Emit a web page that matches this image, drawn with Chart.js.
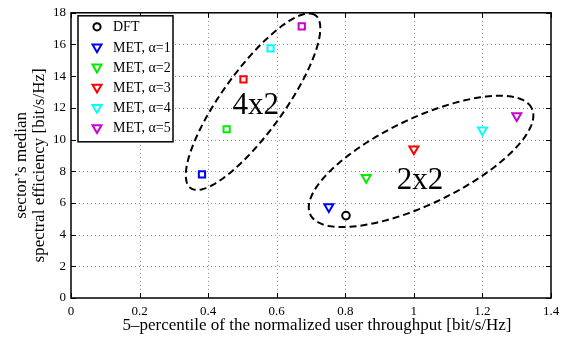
<!DOCTYPE html>
<html>
<head>
<meta charset="utf-8">
<script src="https://cdn.jsdelivr.net/npm/chart.js@4"></script>
<style>
  html, body { margin: 0; padding: 0; background: #fff; }
  #wrap { width: 568px; height: 345px; position: relative; }
</style>
</head>
<body>
<div id="wrap"><canvas id="chart"></canvas></div>
<script>
const xTicks = [0, 0.2, 0.4, 0.6, 0.8, 1, 1.2, 1.4];
const yTicks = [0, 2, 4, 6, 8, 10, 12, 14, 16, 18];

const seriesNames = ["DFT", "MET, \u03b1=1", "MET, \u03b1=2", "MET, \u03b1=3", "MET, \u03b1=4", "MET, \u03b1=5"];
const seriesColors = ["#000000", "#0000ff", "#00ee00", "#ff0000", "#00ffff", "#cc00cc"];

const xTitle = "5\u2013percentile of the normalized user throughput [bit/s/Hz]";
const yTitle = ["sector\u2019s median", "spectral efficiency [bit/s/Hz]"];

// 4x2 antenna config (squares)
const x4x2 = [null, 0.382, 0.454, 0.503, 0.582, 0.673];
const y4x2 = [null, 7.8, 10.65, 13.8, 15.75, 17.15];
// 2x2 antenna config (down triangles), DFT circle
const x2x2 = [0.802, 0.752, 0.861, 1.0, 1.2, 1.3];
const y2x2 = [5.2, 5.75, 7.6, 9.4, 10.6, 11.5];

// dashed ellipses: centre, major and minor half-axis vectors (data units)
const ellipses = [
  { cx: 0.531, cy: 12.39, ux: 0.182, uy: 5.45, vx: -0.0732, vy: 1.145, label: "4x2", lx: 0.539, ly: 12.14 },
  { cx: 1.021, cy: 8.62, ux: 0.323, uy: 3.35, vx: -0.0544, vy: 2.44, label: "2x2", lx: 1.018, ly: 7.42 }
];

const serif = "'Liberation Serif', 'DejaVu Serif', serif";

const datasets = seriesNames.map((name, i) => {
  const pts = [];
  const styles = [];
  const rot = [];
  const rad = [];
  if (x4x2[i] !== null) {
    pts.push({ x: x4x2[i], y: y4x2[i] });
    styles.push("rect"); rot.push(0); rad.push(4.4);
  }
  pts.push({ x: x2x2[i], y: y2x2[i] });
  styles.push(i === 0 ? "circle" : "triangle");
  rot.push(i === 0 ? 0 : 180);
  rad.push(i === 0 ? 3.8 : 5.2);
  return {
    label: name,
    data: pts,
    pointStyle: styles,
    rotation: rot,
    pointRadius: rad,
    pointHoverRadius: rad,
    borderColor: seriesColors[i],
    backgroundColor: "#ffffff",
    pointBorderWidth: 2,
    showLine: false
  };
});

const extras = {
  id: "extras",
  beforeDatasetsDraw(chart) {
    const { ctx, chartArea: a, scales: { x, y } } = chart;
    ctx.save();
    // dotted grid
    ctx.strokeStyle = "#8a8a8a";
    ctx.lineWidth = 1;
    ctx.setLineDash([1, 3]);
    ctx.beginPath();
    xTicks.slice(1, -1).forEach(v => {
      const px = Math.round(x.getPixelForValue(v)) + 0.5;
      ctx.moveTo(px, a.top); ctx.lineTo(px, a.bottom);
    });
    yTicks.slice(1, -1).forEach(v => {
      const py = Math.round(y.getPixelForValue(v)) + 0.5;
      ctx.moveTo(a.left, py); ctx.lineTo(a.right, py);
    });
    ctx.stroke();
    ctx.restore();
  },
  afterDatasetsDraw(chart) {
    const { ctx, scales: { x, y } } = chart;
    ctx.save();
    // ellipses
    ctx.strokeStyle = "#000";
    ctx.lineWidth = 2;
    ctx.setLineDash([7, 4]);
    ellipses.forEach(e => {
      ctx.beginPath();
      for (let k = 0; k <= 200; k++) {
        const t = k / 200 * Math.PI * 2;
        const px = x.getPixelForValue(e.cx + e.ux * Math.cos(t) + e.vx * Math.sin(t));
        const py = y.getPixelForValue(e.cy + e.uy * Math.cos(t) + e.vy * Math.sin(t));
        if (k === 0) ctx.moveTo(px, py); else ctx.lineTo(px, py);
      }
      ctx.closePath();
      ctx.stroke();
    });
    ctx.setLineDash([]);
    ctx.fillStyle = "#000";
    ctx.font = "31px " + serif;
    ctx.textAlign = "center";
    ctx.textBaseline = "middle";
    ellipses.forEach(e => {
      ctx.fillText(e.label, x.getPixelForValue(e.lx), y.getPixelForValue(e.ly));
    });
    ctx.restore();
  },
  afterDraw(chart) {
    const { ctx, chartArea: a, scales: { x, y } } = chart;
    ctx.save();
    // axes box and inward ticks
    ctx.strokeStyle = "#000";
    ctx.lineWidth = 1.5;
    ctx.strokeRect(a.left, a.top, a.right - a.left, a.bottom - a.top);
    ctx.lineWidth = 1;
    ctx.beginPath();
    xTicks.forEach(v => {
      const px = Math.round(x.getPixelForValue(v)) + 0.5;
      ctx.moveTo(px, a.bottom); ctx.lineTo(px, a.bottom - 5);
      ctx.moveTo(px, a.top); ctx.lineTo(px, a.top + 5);
    });
    yTicks.forEach(v => {
      const py = Math.round(y.getPixelForValue(v)) + 0.5;
      ctx.moveTo(a.left, py); ctx.lineTo(a.left + 5, py);
      ctx.moveTo(a.right, py); ctx.lineTo(a.right - 5, py);
    });
    ctx.stroke();

    // axis titles
    ctx.fillStyle = "#000";
    ctx.font = "17px " + serif;
    ctx.textAlign = "center";
    ctx.textBaseline = "middle";
    ctx.fillText(xTitle, (a.left + a.right) / 2 + 6, a.bottom + 28);
    ctx.save();
    ctx.translate(31, (a.top + a.bottom) / 2 + 10);
    ctx.rotate(-Math.PI / 2);
    ctx.fillText(yTitle[0], 0, -9);
    ctx.fillText(yTitle[1], 0, 9);
    ctx.restore();

    // legend
    const lx = a.left + 7, ly = a.top + 3, lw = 95, lh = 126;
    ctx.fillStyle = "#fff";
    ctx.fillRect(lx, ly, lw, lh);
    ctx.lineWidth = 1.5;
    ctx.strokeRect(lx, ly, lw, lh);
    ctx.font = "14px " + serif;
    ctx.textAlign = "left";
    ctx.textBaseline = "middle";
    seriesNames.forEach((name, i) => {
      const cy = ly + 11 + i * 20.2;
      const mx = lx + 19;
      ctx.strokeStyle = seriesColors[i];
      ctx.lineWidth = 2;
      ctx.beginPath();
      if (i === 0) {
        ctx.arc(mx, cy, 3.6, 0, Math.PI * 2);
      } else {
        const r = 5.2;
        ctx.moveTo(mx, cy + r);
        ctx.lineTo(mx - r * 0.866, cy - r / 2);
        ctx.lineTo(mx + r * 0.866, cy - r / 2);
        ctx.closePath();
      }
      ctx.stroke();
      ctx.fillStyle = "#000";
      ctx.fillText(name, lx + 35, cy + 1);
    });
    ctx.restore();
  }
};

new Chart(document.getElementById("chart").getContext("2d"), {
  type: "scatter",
  data: { datasets },
  options: {
    responsive: true,
    maintainAspectRatio: false,
    animation: false,
    layout: { padding: { top: 12, right: 17, left: 0, bottom: 0 } },
    plugins: {
      legend: { display: false },
      tooltip: { enabled: false }
    },
    scales: {
      x: {
        type: "linear",
        min: 0, max: 1.4,
        afterBuildTicks: s => { s.ticks = xTicks.map(v => ({ value: v })); },
        afterFit: s => { s.height = 47; },
        border: { display: false },
        grid: { display: false, drawTicks: false },
        ticks: {
          color: "#000",
          padding: 6,
          maxRotation: 0,
          font: { family: serif, size: 13 },
          callback: v => String(+v.toFixed(1))
        }
      },
      y: {
        type: "linear",
        min: 0, max: 18,
        afterBuildTicks: s => { s.ticks = yTicks.map(v => ({ value: v })); },
        afterFit: s => { s.width = 71; },
        border: { display: false },
        grid: { display: false, drawTicks: false },
        ticks: {
          color: "#000",
          padding: 5,
          font: { family: serif, size: 13 },
          callback: v => String(v)
        }
      }
    }
  },
  plugins: [extras]
});
</script>
</body>
</html>
